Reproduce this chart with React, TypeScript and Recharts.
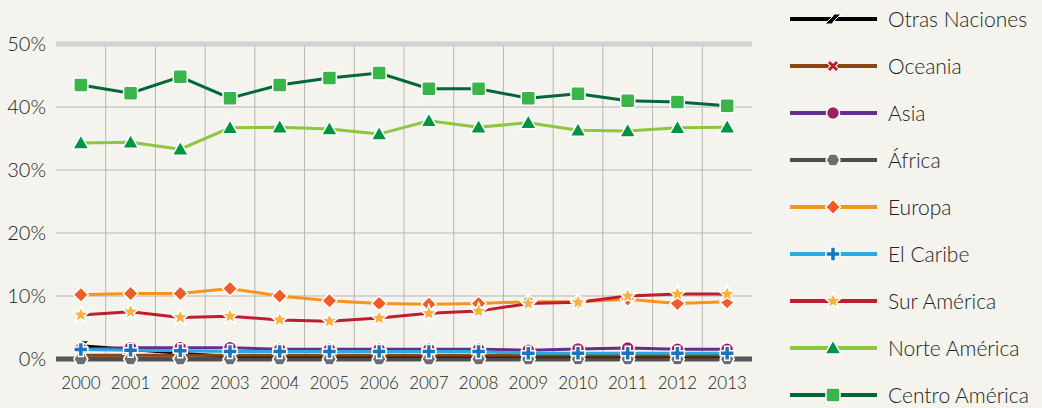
import React from "react";
import { LineChart, Line, XAxis, YAxis, CartesianGrid, ReferenceLine } from "recharts";

const years = ["2000", "2001", "2002", "2003", "2004", "2005", "2006", "2007", "2008", "2009", "2010", "2011", "2012", "2013"];

const otrasNaciones = [2.1, 1.5, 0.9, 0.4, 0.4, 0.4, 0.4, 0.4, 0.4, 0.4, 0.4, 0.4, 0.4, 0.4];
const oceania = [0.6, 0.6, 0.6, 0.6, 0.6, 0.6, 0.6, 0.6, 0.6, 0.6, 0.6, 0.6, 0.6, 0.6];
const asia = [1.6, 1.8, 1.8, 1.8, 1.55, 1.55, 1.55, 1.55, 1.55, 1.4, 1.6, 1.75, 1.55, 1.55];
const africa = [0, 0, 0, 0, 0, 0, 0, 0, 0, 0, 0, 0, 0, 0];
const europa = [10.2, 10.4, 10.4, 11.2, 10.0, 9.25, 8.8, 8.7, 8.8, 9.1, 9.1, 9.5, 8.8, 9.1];
const elCaribe = [1.5, 1.4, 1.3, 1.2, 1.2, 1.2, 1.2, 1.2, 1.2, 0.9, 0.9, 0.9, 0.9, 0.9];
const surAmerica = [7.0, 7.5, 6.6, 6.8, 6.2, 6.0, 6.5, 7.25, 7.6, 8.8, 9.0, 10.0, 10.3, 10.3];
const norteAmerica = [34.3, 34.4, 33.3, 36.7, 36.8, 36.5, 35.7, 37.8, 36.8, 37.5, 36.3, 36.2, 36.7, 36.8];
const centroAmerica = [43.5, 42.2, 44.8, 41.4, 43.5, 44.6, 45.4, 42.9, 42.9, 41.4, 42.1, 41.0, 40.8, 40.2];

const yTicks = [0, 10, 20, 30, 40, 50];

const series = [
  { key: "otras", name: "Otras Naciones", values: otrasNaciones, line: "#000000", marker: "#000000", shape: "slash" },
  { key: "oceania", name: "Oceania", values: oceania, line: "#8b4513", marker: "#be1e2d", shape: "x" },
  { key: "asia", name: "Asia", values: asia, line: "#662d91", marker: "#9e1f63", shape: "circle" },
  { key: "africa", name: "África", values: africa, line: "#4d4d4f", marker: "#6d6e71", shape: "hexagon" },
  { key: "europa", name: "Europa", values: europa, line: "#f7941d", marker: "#f15a29", shape: "diamond" },
  { key: "caribe", name: "El Caribe", values: elCaribe, line: "#29abe2", marker: "#1c75bc", shape: "plus" },
  { key: "sur", name: "Sur América", values: surAmerica, line: "#be1e2d", marker: "#fbb040", shape: "star" },
  { key: "norte", name: "Norte América", values: norteAmerica, line: "#8dc63f", marker: "#009444", shape: "triangle" },
  { key: "centro", name: "Centro América", values: centroAmerica, line: "#006838", marker: "#39b54a", shape: "square" },
];

const data = years.map((y, i) => {
  const row: any = { idx: i, year: y };
  series.forEach((s) => {
    row[s.key] = s.values[i];
  });
  return row;
});

const FONT = "Lato, 'Open Sans', sans-serif";
const BG = "#f4f3ee";

function starPoints(outer: number, inner: number) {
  const pts: string[] = [];
  for (let i = 0; i < 10; i++) {
    const r = i % 2 === 0 ? outer : inner;
    const a = -Math.PI / 2 + (i * Math.PI) / 5;
    pts.push(`${(r * Math.cos(a)).toFixed(2)},${(r * Math.sin(a)).toFixed(2)}`);
  }
  return pts.join(" ");
}

function hexPoints(r: number) {
  const pts: string[] = [];
  for (let i = 0; i < 6; i++) {
    const a = (i * Math.PI) / 3;
    pts.push(`${(r * Math.cos(a)).toFixed(2)},${(r * Math.sin(a)).toFixed(2)}`);
  }
  return pts.join(" ");
}

function MarkerShape({ shape, fill, x, y }: { shape: string; fill: string; x: number; y: number }) {
  const sw = 1.5;
  let el: React.ReactNode = null;
  switch (shape) {
    case "square":
      el = <rect x={-7} y={-7} width={14} height={14} rx={2} fill={fill} stroke="#fff" strokeWidth={sw} />;
      break;
    case "triangle":
      el = <polygon points="0,-8 8,6 -8,6" fill={fill} stroke="#fff" strokeWidth={sw} />;
      break;
    case "diamond":
      el = <polygon points="0,-7.5 7.5,0 0,7.5 -7.5,0" fill={fill} stroke="#fff" strokeWidth={sw} />;
      break;
    case "star":
      el = <polygon points={starPoints(8.5, 3.8)} fill={fill} stroke="#fff" strokeWidth={sw} />;
      break;
    case "plus":
      el = (
        <path
          d="M-2.5,-7 H2.5 V-2.5 H7 V2.5 H2.5 V7 H-2.5 V2.5 H-7 V-2.5 H-2.5 Z"
          fill={fill}
          stroke="#fff"
          strokeWidth={sw}
        />
      );
      break;
    case "circle":
      el = <circle r={6.5} fill={fill} stroke="#fff" strokeWidth={sw} />;
      break;
    case "hexagon":
      el = <polygon points={hexPoints(7)} fill={fill} stroke="#fff" strokeWidth={sw} />;
      break;
    case "x":
      el = (
        <g>
          <path d="M-4,-4 L4,4 M4,-4 L-4,4" stroke="#fff" strokeWidth={5} />
          <path d="M-4,-4 L4,4 M4,-4 L-4,4" stroke={fill} strokeWidth={3} />
        </g>
      );
      break;
    case "slash":
      el = <polygon points="-8,5 -1,-2 1,-5 8,-5 1,2 -1,5" fill={fill} stroke="#fff" strokeWidth={1} />;
      break;
  }
  return <g transform={`translate(${x},${y})`}>{el}</g>;
}

const makeDot = (shape: string, fill: string) => (props: any) => {
  const { cx, cy, index } = props;
  if (cx == null || cy == null) return <g key={`d-${index}`} />;
  return (
    <g key={`d-${shape}-${index}`}>
      <MarkerShape shape={shape} fill={fill} x={cx} y={cy} />
    </g>
  );
};

function ChartLegend() {
  return (
    <div style={{ position: "absolute", left: 790, top: -5, fontFamily: FONT }}>
      {series.map((s) => (
        <div key={s.key} style={{ display: "flex", alignItems: "center", height: 47 }}>
          <svg width={98} height={20}>
            <line x1={0} y1={10} x2={87} y2={10} stroke={s.line} strokeWidth={4} />
            <MarkerShape shape={s.shape} fill={s.marker} x={43} y={10} />
          </svg>
          <span style={{ fontSize: 21, color: "#231f20", fontWeight: 300, whiteSpace: "nowrap" }}>{s.name}</span>
        </div>
      ))}
    </div>
  );
}

export default function App() {
  return (
    <div style={{ position: "absolute", left: 0, top: 0, width: 1042, height: 408, background: BG }}>
      <LineChart width={1042} height={408} data={data} margin={{ top: 44, right: 290, left: 0, bottom: 0 }}>
        <CartesianGrid vertical={false} stroke="#b5b5b5" strokeWidth={1} />
        {years.slice(1).map((_, i) => (
          <ReferenceLine key={`v${i}`} x={i + 0.5} stroke="#b5b5b5" strokeWidth={1} />
        ))}
        <ReferenceLine y={50} stroke="#d1d2d4" strokeWidth={5} />
        <ReferenceLine y={0} stroke="#58595b" strokeWidth={5} />
        <XAxis
          dataKey="idx"
          type="number"
          domain={[-0.5, 13.5]}
          ticks={years.map((_, i) => i)}
          tickFormatter={(v) => years[v]}
          tickLine={false}
          axisLine={false}
          height={49}
          interval={0}
          tick={{ fill: "#231f20", fontSize: 17, fontFamily: FONT, fontWeight: 300 }}
          tickMargin={12}
        />
        <YAxis
          domain={[0, 50]}
          ticks={yTicks}
          tickFormatter={(v) => `${v}%`}
          tickLine={false}
          axisLine={false}
          width={56}
          tick={{ fill: "#231f20", fontSize: 20, fontFamily: FONT, fontWeight: 300, dx: -2 }}
        />
        {series.map((s) => (
          <Line
            key={s.key}
            dataKey={s.key}
            name={s.name}
            stroke={s.line}
            strokeWidth={3}
            dot={makeDot(s.shape, s.marker)}
            activeDot={false}
            isAnimationActive={false}
          />
        ))}
      </LineChart>
      <ChartLegend />
    </div>
  );
}
